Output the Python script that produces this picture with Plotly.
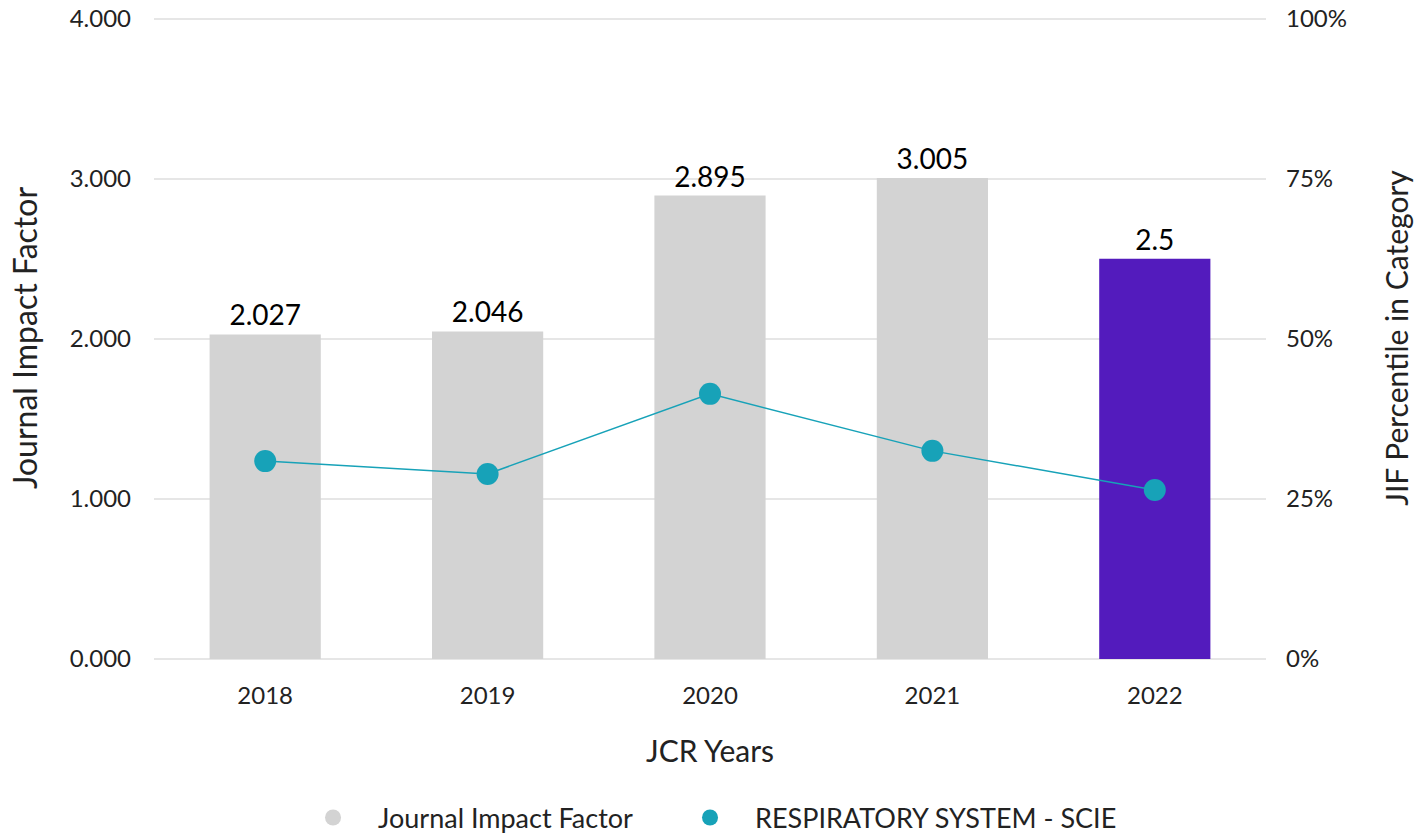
import plotly.graph_objects as go

years = ["2018", "2019", "2020", "2021", "2022"]
jif = [2.027, 2.046, 2.895, 3.005, 2.5]
jif_labels = ["2.027", "2.046", "2.895", "3.005", "2.5"]
percentile = [30.9, 28.9, 41.4, 32.5, 26.4]
bar_colors = ["#d3d3d3", "#d3d3d3", "#d3d3d3", "#d3d3d3", "#531bbd"]
left_ticks = [0, 1, 2, 3, 4]
left_tick_labels = ["0.000", "1.000", "2.000", "3.000", "4.000"]
right_ticks = [0, 25, 50, 75, 100]
right_tick_labels = ["0%", "25%", "50%", "75%", "100%"]
legend_names = ["Journal Impact Factor", "RESPIRATORY SYSTEM - SCIE"]

FONT = "Lato"
TXT = "#222222"
fig = go.Figure()

fig.add_trace(go.Bar(
    x=years, y=jif, marker=dict(color=bar_colors, line=dict(width=0)),
    text=jif_labels, textposition="outside", cliponaxis=False,
    textfont=dict(family=FONT, size=28, color="#000000"),
    width=0.5, showlegend=False, yaxis="y", hoverinfo="x+y",
))

fig.add_trace(go.Scatter(
    x=years, y=percentile, mode="lines+markers",
    line=dict(color="#17a2b8", width=1.5),
    marker=dict(color="#17a2b8", size=22),
    yaxis="y2", showlegend=False,
))

# legend entries (circle symbols)
fig.add_trace(go.Scatter(x=[None], y=[None], mode="markers",
                         marker=dict(color="#d3d3d3", size=22),
                         name=legend_names[0] + "\u00a0" * 4))
fig.add_trace(go.Scatter(x=[None], y=[None], mode="markers",
                         marker=dict(color="#17a2b8", size=22),
                         name=legend_names[1]))

fig.update_layout(
    width=1414, height=835,
    margin=dict(l=154, r=148, t=17, b=176),
    plot_bgcolor="white", paper_bgcolor="white",
    font=dict(family=FONT, size=24, color=TXT),
    bargap=0.5,
    xaxis=dict(
        type="category", showgrid=False, zeroline=False, showline=False,
        ticks="", ticklabelstandoff=20, automargin=False,
        tickfont=dict(size=24, color=TXT),
        title=dict(text="JCR Years", font=dict(size=30, color=TXT), standoff=32),
    ),
    yaxis=dict(
        range=[0, 4.01], tickvals=left_ticks, ticktext=left_tick_labels,
        showgrid=True, gridcolor="#e6e6e6", gridwidth=1.5,
        zeroline=True, zerolinecolor="#e6e6e6", zerolinewidth=1.5,
        ticks="", ticklabelstandoff=22, automargin=False, ticklabeloverflow="allow",
        tickfont=dict(size=24, color=TXT),
        title=dict(text="Journal Impact Factor", font=dict(size=32, color=TXT), standoff=22),
    ),
    yaxis2=dict(
        range=[0, 100.25], tickvals=right_ticks, ticktext=right_tick_labels,
        overlaying="y", side="right", showgrid=False, zeroline=False,
        ticks="", ticklabelstandoff=19, automargin=False, ticklabeloverflow="allow",
        tickfont=dict(size=24, color=TXT),
        title=dict(text="JIF Percentile in Category", font=dict(size=30, color=TXT), standoff=46),
    ),
    legend=dict(orientation="h", x=0.2037, xanchor="left", xref="container",
                y=0.0204, yanchor="middle", yref="container",
                font=dict(size=27, color=TXT), itemsizing="trace", tracegroupgap=0,
                itemwidth=80),
)

fig.write_html("out.html", config={"displayModeBar": False},
               post_script="document.body.style.margin='0';")
